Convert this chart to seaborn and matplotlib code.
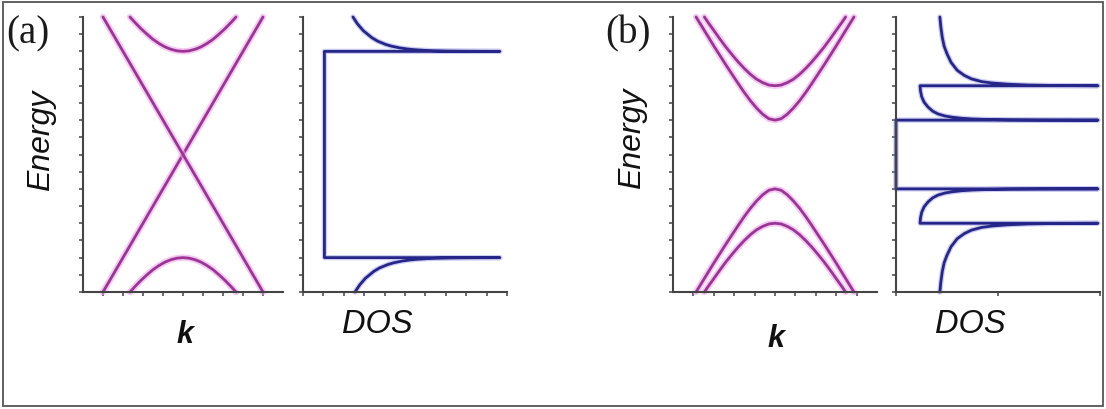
import numpy as np
import pandas as pd
import matplotlib
matplotlib.use("Agg")
import matplotlib.pyplot as plt
from matplotlib.patches import Rectangle
import seaborn as sns

# ---------------- data ----------------
# panel (a): band structure, Energy vs k
a_lin_k = [-4.0, 4.0]
a_lin1_E = [-4.0, 4.0]
a_lin2_E = [4.0, -4.0]
a_gap_k = [-2.65, -2.4, -2.1, -1.8, -1.5, -1.2, -0.9, -0.6, -0.3, 0.0,
           0.3, 0.6, 0.9, 1.2, 1.5, 1.8, 2.1, 2.4, 2.65]
a_cb_E = [4.0, 3.84, 3.66, 3.5, 3.35, 3.23, 3.13, 3.06, 3.015, 3.0,
          3.015, 3.06, 3.13, 3.23, 3.35, 3.5, 3.66, 3.84, 4.0]
a_vb_E = [-4.0, -3.84, -3.66, -3.5, -3.35, -3.23, -3.13, -3.06, -3.015, -3.0,
          -3.015, -3.06, -3.13, -3.23, -3.35, -3.5, -3.66, -3.84, -4.0]

# panel (a): DOS (one continuous outline)
a_dos = [2.45, 2.67, 2.96, 3.37, 3.65, 4.06, 4.35, 4.75, 5.11, 5.45, 5.96, 6.36,
         7.06, 7.75, 8.67, 9.65, 1.05, 1.05, 9.65, 8.77, 7.85, 7.16, 6.46, 6.06,
         5.55, 5.21, 4.85, 4.45, 4.16, 3.75, 3.47, 3.06, 2.77, 2.55]
a_dos_E = [4.0, 3.8, 3.6, 3.4, 3.3, 3.2, 3.15, 3.1, 3.07, 3.05, 3.03, 3.02,
           3.01, 3.005, 3.002, 3.0, 3.0, -3.0, -3.0, -3.002, -3.005, -3.01, -3.02, -3.03,
           -3.05, -3.07, -3.1, -3.15, -3.2, -3.3, -3.4, -3.6, -3.8, -4.0]

# panel (b): band structure (gapped bilayer)
b_k1 = [-3.87, -3.6, -3.3, -3.0, -2.7, -2.4, -2.1, -1.8, -1.5, -1.2, -0.9, -0.6, -0.3, 0.0,
        0.3, 0.6, 0.9, 1.2, 1.5, 1.8, 2.1, 2.4, 2.7, 3.0, 3.3, 3.6, 3.87]
b_cb1_E = [4.0, 3.74, 3.45, 3.16, 2.88, 2.6, 2.33, 2.06, 1.8, 1.56, 1.35, 1.17, 1.04, 1.0,
           1.04, 1.17, 1.35, 1.56, 1.8, 2.06, 2.33, 2.6, 2.88, 3.16, 3.45, 3.74, 4.0]
b_vb1_E = [-4.0, -3.74, -3.45, -3.16, -2.88, -2.6, -2.33, -2.06, -1.8, -1.56, -1.35, -1.17, -1.04, -1.0,
           -1.04, -1.17, -1.35, -1.56, -1.8, -2.06, -2.33, -2.6, -2.88, -3.16, -3.45, -3.74, -4.0]
b_k2 = [-3.46, -3.3, -3.0, -2.7, -2.4, -2.1, -1.8, -1.5, -1.2, -0.9, -0.6, -0.3, 0.0,
        0.3, 0.6, 0.9, 1.2, 1.5, 1.8, 2.1, 2.4, 2.7, 3.0, 3.3, 3.46]
b_cb2_E = [4.0, 3.86, 3.61, 3.36, 3.12, 2.9, 2.69, 2.5, 2.33, 2.19, 2.09, 2.02, 2.0,
           2.02, 2.09, 2.19, 2.33, 2.5, 2.69, 2.9, 3.12, 3.36, 3.61, 3.86, 4.0]
b_vb2_E = [-4.0, -3.86, -3.61, -3.36, -3.12, -2.9, -2.69, -2.5, -2.33, -2.19, -2.09, -2.02, -2.0,
           -2.02, -2.09, -2.19, -2.33, -2.5, -2.69, -2.9, -3.12, -3.36, -3.61, -3.86, -4.0]

# panel (b): DOS (one continuous outline)
b_dos = [2.15, 2.2, 2.27, 2.36, 2.5, 2.7, 3.0, 3.35, 3.7, 4.2, 4.7, 5.5, 6.5, 7.5, 8.7, 9.9,
         1.18, 1.2, 1.26, 1.38, 1.57, 1.8, 2.06, 2.4, 2.75, 3.2, 3.7, 4.5, 5.5, 7.0, 9.9,
         0.0, 0.0, 9.9,
         7.0, 5.5, 4.5, 3.7, 3.2, 2.75, 2.4, 2.06, 1.8, 1.57, 1.38, 1.26, 1.2, 1.18,
         9.9, 8.7, 7.5, 6.5, 5.5, 4.7, 4.2, 3.7, 3.35, 3.0, 2.7, 2.5, 2.36, 2.27, 2.2, 2.15]
b_dos_E = [4.0, 3.7, 3.4, 3.15, 2.93, 2.68, 2.45, 2.3, 2.2, 2.12, 2.08, 2.045, 2.02, 2.01, 2.004, 2.0,
           2.0, 1.85, 1.68, 1.52, 1.38, 1.26, 1.18, 1.12, 1.085, 1.055, 1.035, 1.018, 1.008, 1.003, 1.0,
           1.0, -1.0, -1.0,
           -1.003, -1.008, -1.018, -1.035, -1.055, -1.085, -1.12, -1.18, -1.26, -1.38, -1.52, -1.68, -1.85, -2.0,
           -2.0, -2.004, -2.01, -2.02, -2.045, -2.08, -2.12, -2.2, -2.3, -2.45, -2.68, -2.93, -3.15, -3.4, -3.7, -4.0]

panel_labels = ["(a)", "(b)"]
x_labels = ["k", "DOS"]
y_label = "Energy"

# ---------------- style ----------------
sns.set_style("ticks")
plt.rcParams["font.family"] = ["Liberation Sans", "DejaVu Sans"]

W, H = 1106, 410
fig = plt.figure(figsize=(W / 100, H / 100), dpi=100)

def px_axes(x0, x1, y0=18, y1=293):
    return fig.add_axes([x0 / W, 1 - y1 / H, (x1 - x0) / W, (y1 - y0) / H])

BAND = "#9a3596"
GLOW = "#eda5ea"
DOSC = "#262688"
DOSGLOW = "#9090e0"
AXC = "#444444"

def band_line(ax, k, E):
    df = pd.DataFrame({"k": k, "E": E})
    sns.lineplot(data=df, x="k", y="E", ax=ax, sort=False, estimator=None,
                 color=GLOW, lw=4.6, alpha=0.6, clip_on=False)
    sns.lineplot(data=df, x="k", y="E", ax=ax, sort=False, estimator=None,
                 color=BAND, lw=2.0, clip_on=False)

def dos_line(ax, d, E):
    df = pd.DataFrame({"d": d, "E": E})
    sns.lineplot(data=df, x="d", y="E", ax=ax, sort=False, estimator=None,
                 color=DOSGLOW, lw=3.8, alpha=0.45, clip_on=False)
    sns.lineplot(data=df, x="d", y="E", ax=ax, sort=False, estimator=None,
                 color=DOSC, lw=2.0, clip_on=False)

def style_axes(ax, xlim, xticks):
    ax.set_xlim(*xlim)
    ax.set_ylim(-4, 4)
    ax.set_xticks(xticks)
    ax.set_yticks(np.arange(-4, 4.01, 0.5))
    ax.set_xticklabels([])
    ax.set_yticklabels([])
    ax.set_xlabel("")
    ax.set_ylabel("")
    sns.despine(ax=ax)
    for s in ("left", "bottom"):
        ax.spines[s].set_color(AXC)
        ax.spines[s].set_linewidth(1.5)
    ax.tick_params(direction="out", length=3, width=1.1, color=AXC)

# panel (a) bands
ax1 = px_axes(83, 283)
band_line(ax1, a_lin_k, a_lin1_E)
band_line(ax1, a_lin_k, a_lin2_E)
band_line(ax1, a_gap_k, a_cb_E)
band_line(ax1, a_gap_k, a_vb_E)
style_axes(ax1, (-5, 5), np.arange(-4, 5, 1))

# panel (a) DOS
ax2 = px_axes(303, 507)
dos_line(ax2, a_dos, a_dos_E)
style_axes(ax2, (0, 10), np.arange(0, 11, 1))

# panel (b) bands
ax3 = px_axes(673, 877)
band_line(ax3, b_k1, b_cb1_E)
band_line(ax3, b_k2, b_cb2_E)
band_line(ax3, b_k1, b_vb1_E)
band_line(ax3, b_k2, b_vb2_E)
style_axes(ax3, (-5, 5), np.arange(-4, 5, 1))

# panel (b) DOS
ax4 = px_axes(896, 1100)
dos_line(ax4, b_dos, b_dos_E)
style_axes(ax4, (0, 10), [0, 5, 10])

# ---------------- text ----------------
def ftext(x, y, s, **kw):
    fig.text(x / W, 1 - y / H, s, **kw)

serif = ["Liberation Serif", "DejaVu Serif"]
ftext(6, 43, panel_labels[0], family=serif, fontsize=28, ha="left", va="baseline", color="#1a1a1a")
ftext(605, 43, panel_labels[1], family=serif, fontsize=28, ha="left", va="baseline", color="#1a1a1a")

ftext(41, 140, y_label, fontsize=23, style="italic", rotation=90, ha="center", va="center", color="#111111")
ftext(632, 138, y_label, fontsize=23, style="italic", rotation=90, ha="center", va="center", color="#111111")

ftext(185, 343, x_labels[0], fontsize=22, style="italic", weight="bold", ha="center", va="baseline", color="#111111")
ftext(776, 347, x_labels[0], fontsize=22, style="italic", weight="bold", ha="center", va="baseline", color="#111111")

ftext(377, 333, x_labels[1], fontsize=23.5, style="italic", ha="center", va="baseline", color="#111111")
ftext(970, 333, x_labels[1], fontsize=23.5, style="italic", ha="center", va="baseline", color="#111111")

# outer frame
fig.patches.append(Rectangle((3 / W, 3 / H), 1100 / W, 404 / H, transform=fig.transFigure,
                             fill=False, ec="#555555", lw=1.3))

fig.savefig("out.png", dpi=100)
